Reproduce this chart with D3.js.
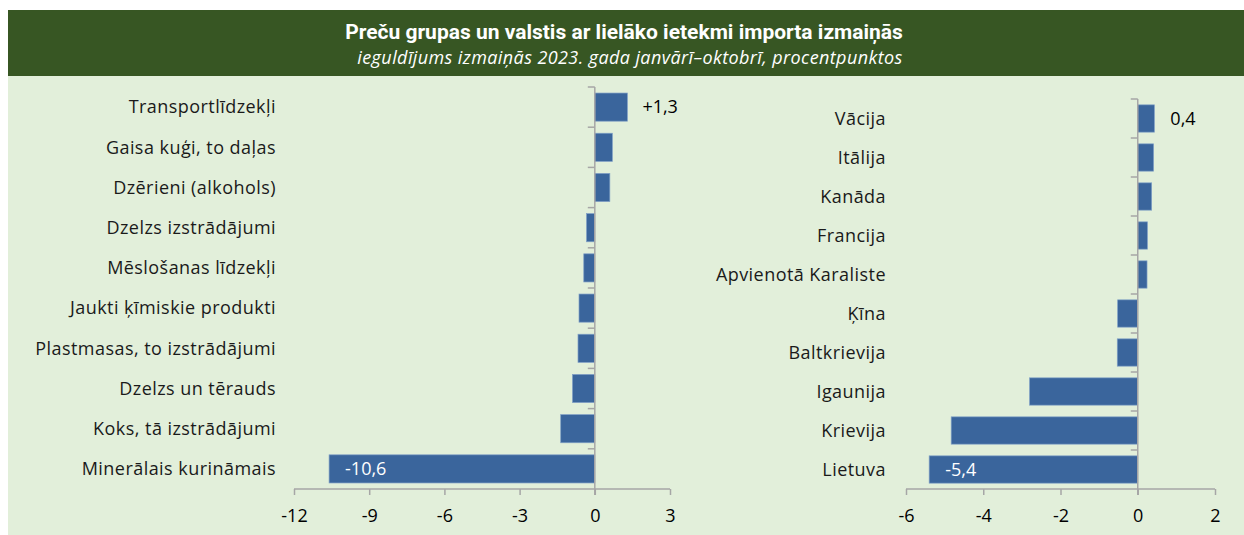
<!DOCTYPE html>
<html>
<head>
<meta charset="utf-8">
<script src="https://cdn.jsdelivr.net/npm/d3@7"></script>
<style>
  body { margin: 0; background: #fff; }
  svg { display: block; font-family: "Open Sans", Lato, sans-serif; }
</style>
</head>
<body>
<div id="chart"></div>
<script>
// preču grupas
var goods = ["Transportlīdzekļi", "Gaisa kuģi, to daļas", "Dzērieni (alkohols)",
  "Dzelzs izstrādājumi", "Mēslošanas līdzekļi", "Jaukti ķīmiskie produkti",
  "Plastmasas, to izstrādājumi", "Dzelzs un tērauds", "Koks, tā izstrādājumi",
  "Minerālais kurināmais"];
var goodsVal = [1.3, 0.7, 0.6, -0.33, -0.44, -0.63, -0.67, -0.89, -1.36, -10.6];
var goodsTicks = [-12, -9, -6, -3, 0, 3];

// valstis
var countries = ["Vācija", "Itālija", "Kanāda", "Francija", "Apvienotā Karaliste",
  "Ķīna", "Baltkrievija", "Igaunija", "Krievija", "Lietuva"];
var countryVal = [0.43, 0.41, 0.36, 0.25, 0.24, -0.52, -0.53, -2.8, -4.83, -5.4];
var countryTicks = [-6, -4, -2, 0, 2];

var W = 1244, H = 535;
var svg = d3.select("#chart").append("svg")
  .attr("width", W).attr("height", H);

svg.append("rect").attr("x", 8).attr("y", 76).attr("width", W - 8).attr("height", H - 76)
  .attr("fill", "#e2efda");
svg.append("rect").attr("x", 8).attr("y", 10).attr("width", W - 8).attr("height", 66)
  .attr("fill", "#375623");

svg.append("text").attr("x", 624).attr("y", 39)
  .attr("text-anchor", "middle").attr("fill", "#fff")
  .attr("font-size", "21px").attr("font-weight", "bold")
  .attr("font-family", "Roboto, 'Open Sans', sans-serif")
  .text("Preču grupas un valstis ar lielāko ietekmi importa izmaiņās");
svg.append("text").attr("x", 630).attr("y", 64)
  .attr("text-anchor", "middle").attr("fill", "#fff")
  .attr("font-size", "18px").attr("font-style", "italic").attr("letter-spacing", "0.4px")
  .text("ieguldījums izmaiņās 2023. gada janvārī–oktobrī, procentpunktos");

var fmt = function(v, plus) {
  var s = d3.format(".1f")(v).replace(".", ",").replace("−", "-");
  return (plus && v > 0 ? "+" : "") + s;
};

function panel(cats, vals, ticks, x0, x1, y0, y1, labels) {
  var x = d3.scaleLinear().domain([ticks[0], ticks[ticks.length - 1]]).range([x0, x1]);
  var y = d3.scaleBand().domain(cats).range([y0, y1]).paddingInner(0.3).paddingOuter(0.15);
  var g = svg.append("g");

  // bars
  g.selectAll(".bar").data(cats).enter().append("rect")
    .attr("class", "bar")
    .attr("x", function(d, i) { return x(Math.min(0, vals[i])); })
    .attr("y", function(d) { return y(d); })
    .attr("width", function(d, i) { return Math.abs(x(vals[i]) - x(0)); })
    .attr("height", y.bandwidth())
    .attr("fill", "#3a659c")
    .attr("stroke", "#7f9fc6").attr("stroke-width", 0.7);

  // x axis
  var xa = g.append("g").attr("transform", "translate(0," + y1 + ")")
    .call(d3.axisBottom(x).tickValues(ticks).tickSize(6).tickSizeOuter(0)
      .tickFormat(function(d) { return d; }));
  xa.select(".domain").attr("stroke", "#a6a6a6").attr("stroke-width", 1.5)
    .attr("d", "M" + x0 + ",0H" + x1);
  xa.selectAll(".tick line").attr("stroke", "#a6a6a6").attr("stroke-width", 1.5);
  xa.selectAll(".tick text").attr("font-size", "18px").attr("fill", "#000")
    .attr("dy", "1.35em").attr("font-family", "'Open Sans', sans-serif");

  // vertical zero axis with ticks between categories
  var bounds = d3.range(cats.length).map(function(i) { return y0 + i * (y1 - y0) / cats.length; });
  g.append("line").attr("x1", x(0)).attr("x2", x(0)).attr("y1", y0).attr("y2", y1 + 6)
    .attr("stroke", "#a6a6a6").attr("stroke-width", 1.5);
  g.selectAll(".yt").data(bounds).enter().append("line")
    .attr("x1", x(0) - 7).attr("x2", x(0))
    .attr("y1", function(d) { return d; }).attr("y2", function(d) { return d; })
    .attr("stroke", "#a6a6a6").attr("stroke-width", 1.5);

  // category labels
  g.selectAll(".cat").data(cats).enter().append("text")
    .attr("x", labels)
    .attr("y", function(d) { return y(d) + y.bandwidth() / 2; })
    .attr("dy", "0.35em").attr("text-anchor", "end")
    .attr("font-size", "18px").attr("letter-spacing", "0.45px").attr("fill", "#1a1a1a")
    .text(function(d) { return d; });

  return { x: x, y: y, g: g };
}

var L = panel(goods, goodsVal, goodsTicks, 294, 670, 87, 489, 276);
var R = panel(countries, countryVal, countryTicks, 906, 1215, 99, 489, 886);

// value labels
L.g.append("text").attr("x", L.x(goodsVal[0]) + 15)
  .attr("y", L.y(goods[0]) + L.y.bandwidth() / 2).attr("dy", "0.35em")
  .attr("font-size", "18px").attr("fill", "#000").text(fmt(goodsVal[0], true));
L.g.append("text").attr("x", L.x(goodsVal[9]) + 16)
  .attr("y", L.y(goods[9]) + L.y.bandwidth() / 2).attr("dy", "0.35em")
  .attr("font-size", "18px").attr("fill", "#fff").text(fmt(goodsVal[9]));
R.g.append("text").attr("x", R.x(countryVal[0]) + 16)
  .attr("y", R.y(countries[0]) + R.y.bandwidth() / 2).attr("dy", "0.35em")
  .attr("font-size", "18px").attr("fill", "#000").text(fmt(countryVal[0]));
R.g.append("text").attr("x", R.x(countryVal[9]) + 16)
  .attr("y", R.y(countries[9]) + R.y.bandwidth() / 2).attr("dy", "0.35em")
  .attr("font-size", "18px").attr("fill", "#fff").text(fmt(countryVal[9]));
</script>
</body>
</html>
